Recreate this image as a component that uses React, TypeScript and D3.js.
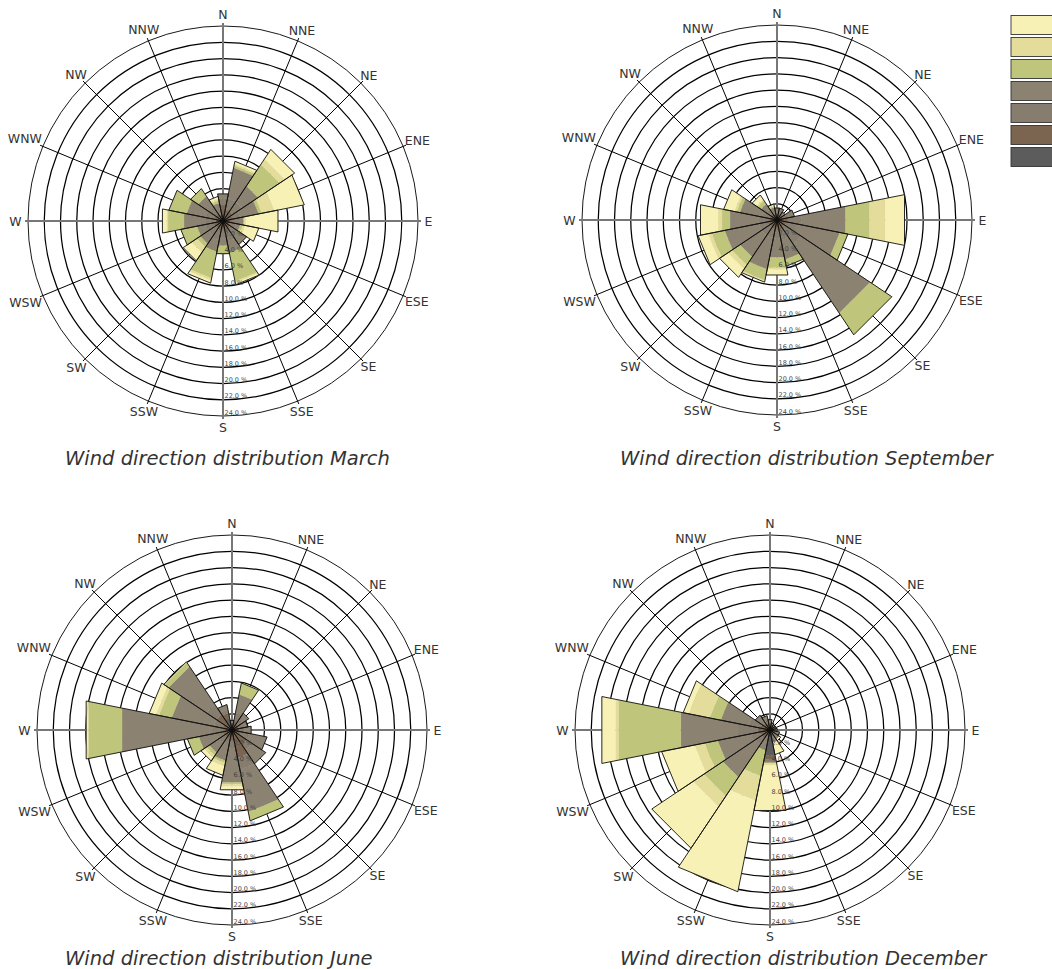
import React from 'react';
import * as d3 from 'd3';

const directions = ['N', 'NNE', 'NE', 'ENE', 'E', 'ESE', 'SE', 'SSE', 'S', 'SSW', 'SW', 'WSW', 'W', 'WNW', 'NW', 'NNW'];
// speed classes, stacked from the centre outwards
const speedKeys = ['c7', 'c6', 'c5', 'c4', 'c3', 'c2', 'c1'];
const speedColors = ['#5C5C5C', '#7B6550', '#877D6E', '#8B8272', '#C0C57C', '#E3DC9B', '#F7F1B5'];
const legendColors = ['#F7F1B5', '#E3DC9B', '#C0C57C', '#8B8272', '#877D6E', '#7B6550', '#5C5C5C'];
const ringTicks = [2, 4, 6, 8, 10, 12, 14, 16, 18, 20, 22, 24];

// percent per direction, per speed class (inner -> outer)
const marchData = [
  [1.2, 0.8, 0.8, 0.6, 0, 0, 0],
  [0.4, 1.0, 1.5, 3.8, 0.3, 0.2, 0.3],
  [0.4, 1.0, 1.4, 2.4, 3.2, 0.8, 1.4],
  [0.4, 0.8, 1.0, 2.3, 0.4, 1.6, 3.7],
  [0.3, 0.8, 0.8, 0.7, 0, 0.3, 4.0],
  [0.3, 0.5, 0.8, 0.6, 0.3, 0.3, 1.7],
  [0.3, 0.8, 1.0, 1.4, 0, 0, 0],
  [0.4, 1.0, 1.2, 1.4, 3.6, 0.2, 0.2],
  [0.3, 0.8, 0.8, 1.2, 1.0, 0, 0],
  [0.4, 0.8, 1.2, 1.5, 3.3, 0.3, 0.3],
  [0.3, 0.8, 1.0, 1.3, 0.5, 0.8, 1.2],
  [0.3, 0.8, 1.0, 1.2, 2.0, 0, 0],
  [0.3, 0.6, 1.2, 2.8, 2.0, 0.2, 0.5],
  [0.3, 0.8, 1.0, 2.5, 2.2, 0, 0],
  [0.3, 0.8, 1.0, 1.6, 1.1, 0, 0],
  [0.3, 0.5, 0.7, 0.8, 0.3, 0.2, 0.3],
];

const septemberData = [
  [0.3, 0.3, 0.4, 0.5, 0, 0, 0],
  [0.3, 0.3, 0.4, 0.5, 0, 0, 0],
  [0.3, 0.3, 0.3, 0.3, 0, 0, 0],
  [0.3, 0.4, 0.5, 1.0, 0, 0, 0],
  [0.3, 1.0, 1.8, 5.5, 3.0, 2.0, 2.4],
  [0.3, 0.8, 1.5, 5.3, 1.0, 0, 0],
  [0.3, 0.8, 2.5, 10.2, 3.2, 0, 0],
  [0.3, 1.0, 1.2, 2.5, 0.8, 0, 0],
  [0.3, 0.8, 1.2, 2.4, 1.3, 0.2, 0.7],
  [0.3, 0.8, 1.2, 3.9, 1.4, 0.1, 0.1],
  [0.3, 0.8, 1.2, 3.2, 1.2, 0.6, 1.2],
  [0.3, 0.8, 1.2, 4.3, 1.6, 0.5, 1.2],
  [0.3, 0.8, 1.2, 3.6, 1.0, 0.5, 2.2],
  [0.3, 0.6, 1.0, 2.8, 0.4, 0.3, 1.3],
  [0.3, 0.5, 0.8, 0.8, 0.5, 0.2, 0.6],
  [0.3, 0.4, 0.4, 0.5, 0.2, 0, 0.2],
];

const juneData = [
  [0.4, 0.4, 0.2, 0.2, 0, 0, 0],
  [0.3, 0.8, 1.0, 2.4, 1.4, 0, 0],
  [0.3, 0.6, 0.6, 1.0, 0, 0, 0],
  [0.3, 0.5, 0.5, 0.7, 0, 0, 0],
  [0.3, 0.6, 0.6, 0.9, 0, 0, 0],
  [0.3, 0.8, 1.0, 2.3, 0, 0, 0],
  [0.4, 1.8, 0.8, 2.0, 0, 0, 0],
  [0.5, 3.0, 1.5, 5.3, 1.1, 0, 0],
  [0.5, 0.8, 1.0, 4.3, 0.2, 0.3, 0.4],
  [0.3, 0.8, 0.8, 2.0, 0.2, 0.5, 1.1],
  [0.3, 0.8, 0.8, 1.5, 0.4, 0.3, 0.5],
  [0.3, 0.8, 0.8, 2.3, 1.4, 0, 0],
  [0.3, 0.8, 1.5, 11.2, 4.2, 0.1, 0.2],
  [0.3, 0.8, 1.2, 5.3, 1.6, 0.4, 0.8],
  [0.3, 2.0, 1.5, 5.6, 0.6, 0, 0.1],
  [1.5, 0.6, 0.5, 0.6, 0, 0, 0],
];

const decemberData = [
  [0.4, 0.3, 0.3, 0.3, 0, 0, 0],
  [0.3, 0.2, 0.2, 0.2, 0, 0, 0],
  [0.3, 0.2, 0.2, 0.1, 0, 0, 0],
  [0.3, 0.2, 0.2, 0.1, 0, 0, 0],
  [0.3, 0.2, 0.2, 0.2, 0, 0, 0],
  [0.3, 0.3, 0.3, 0.3, 0, 0, 0],
  [0.3, 0.3, 0.3, 0.5, 0, 0, 0.2],
  [0.3, 0.5, 0.4, 0.4, 0, 0.2, 1.3],
  [3.2, 0.5, 0.2, 0.2, 0, 0.3, 5.7],
  [0.3, 0.5, 0.5, 1.3, 3.2, 3.1, 11.4],
  [0.4, 0.8, 1.0, 4.8, 2.8, 1.6, 6.1],
  [0.4, 0.8, 1.2, 4.2, 1.6, 1.3, 4.1],
  [0.5, 1.0, 2.5, 7.2, 7.8, 0.4, 1.7],
  [0.4, 0.8, 1.5, 3.5, 1.4, 2.6, 0.7],
  [0.4, 0.4, 0.5, 0.9, 0, 0, 0],
  [0.4, 0.4, 0.4, 0.6, 0, 0, 0],
];

const charts = [
  { title: 'Wind direction distribution March', data: marchData, cx: 223, cy: 221, tx: 65, ty: 465 },
  { title: 'Wind direction distribution September', data: septemberData, cx: 777, cy: 220, tx: 620, ty: 465 },
  { title: 'Wind direction distribution June', data: juneData, cx: 232, cy: 730, tx: 65, ty: 965 },
  { title: 'Wind direction distribution December', data: decemberData, cx: 770, cy: 730, tx: 620, ty: 965 },
];

const R = 195;
const rScale = d3.scaleLinear().domain([0, 24]).range([0, R]);
const step = (2 * Math.PI) / directions.length;
const half = step / 2;
const radial = d3
  .lineRadial<[number, number]>()
  .angle((d) => d[0])
  .radius((d) => d[1])
  .curve(d3.curveLinearClosed);

const LABEL_FS = 12.5;
const glyphW: Record<string, number> = { N: 0.748, E: 0.632, S: 0.635, W: 0.989 };
function labelPos(d: string, a: number, cardinal: boolean) {
  const w = d.split('').reduce((s, ch) => s + (glyphW[ch] || 0.7), 0) * LABEL_FS;
  const hh = 0.73 * LABEL_FS * 0.5;
  const ux = Math.sin(a);
  const uy = -Math.cos(a);
  const ext = Math.abs(ux) * (w / 2) + Math.abs(uy) * hh;
  const rr = (cardinal ? 201.5 : 197) + ext;
  return [ux * rr, uy * rr];
}

function Rose({ data, cx, cy, title, tx, ty }: any) {
  const rows = directions.map((dir, i) => {
    const o: any = { dir };
    speedKeys.forEach((k, j) => (o[k] = data[i][j]));
    return o;
  });
  const series = d3.stack().keys(speedKeys)(rows);
  const totals = rows.map((row) => d3.sum(speedKeys, (k) => row[k]));

  return (
    <g>
      <g transform={`translate(${cx},${cy})`}>
        {ringTicks.map((t) => (
          <circle key={t} r={rScale(t)} fill="none" stroke="#000" strokeWidth={t === 24 ? 0.9 : 1.25} />
        ))}
        {directions.map((d, i) => {
          const a = i * step;
          const card = i % 4 === 0;
          const L = R + 3;
          return (
            <line
              key={d}
              x1={0}
              y1={0}
              x2={Math.sin(a) * L}
              y2={-Math.cos(a) * L}
              stroke={card ? '#777' : '#000'}
              strokeWidth={card ? 2 : 1}
            />
          );
        })}
        {series.map((s, si) =>
          s.map((seg, i) => {
            const [y0, y1] = seg as any;
            if (y1 - y0 <= 0) return null;
            const a = i * step;
            const path = radial([
              [a - half, rScale(y0)],
              [a - half, rScale(y1)],
              [a + half, rScale(y1)],
              [a + half, rScale(y0)],
            ]);
            return (
              <path
                key={`${si}-${i}`}
                d={path || ''}
                fill={speedColors[si]}
                stroke={speedColors[si]}
                strokeWidth={0.4}
              />
            );
          })
        )}
        {totals.map((tot, i) => {
          const a = i * step;
          const path = radial([
            [a - half, 0],
            [a - half, rScale(tot)],
            [a + half, rScale(tot)],
          ]);
          return <path key={i} d={path || ''} fill="none" stroke="#111" strokeWidth={0.9} strokeLinejoin="round" />;
        })}
        {ringTicks.map((t) => (
          <text
            key={t}
            x={1.5}
            y={rScale(t) - 1.5}
            fontFamily="DejaVu Sans, sans-serif"
            fontSize={6.5}
            fill="#444"
          >
            {`${t.toFixed(1)} %`}
          </text>
        ))}
        {directions.map((d, i) => {
          const [lx, ly] = labelPos(d, i * step, i % 4 === 0);
          return (
            <text
              key={d}
              x={lx}
              y={ly}
              textAnchor="middle"
              dominantBaseline="central"
              fontFamily="DejaVu Sans, sans-serif"
              fontSize={LABEL_FS}
              fill="#333"
            >
              {d}
            </text>
          );
        })}
      </g>
      <text
        x={tx}
        y={ty}
        fontFamily="DejaVu Sans, sans-serif"
        fontStyle="italic"
        fontSize={19.5}
        fill="#333"
      >
        {title}
      </text>
    </g>
  );
}

export default function App() {
  const ly = d3.scaleLinear().domain([0, 6]).range([15.5, 147.5]);
  return (
    <svg
      width={1052}
      height={969}
      style={{ position: 'absolute', left: 0, top: 0, background: '#fff' }}
    >
      <rect width={1052} height={969} fill="#fff" />
      {charts.map((c) => (
        <Rose key={c.title} {...c} />
      ))}
      {legendColors.map((col, i) => (
        <rect
          key={i}
          x={1011}
          y={ly(i)}
          width={50}
          height={19}
          fill={col}
          stroke="#333"
          strokeWidth={0.9}
        />
      ))}
    </svg>
  );
}
